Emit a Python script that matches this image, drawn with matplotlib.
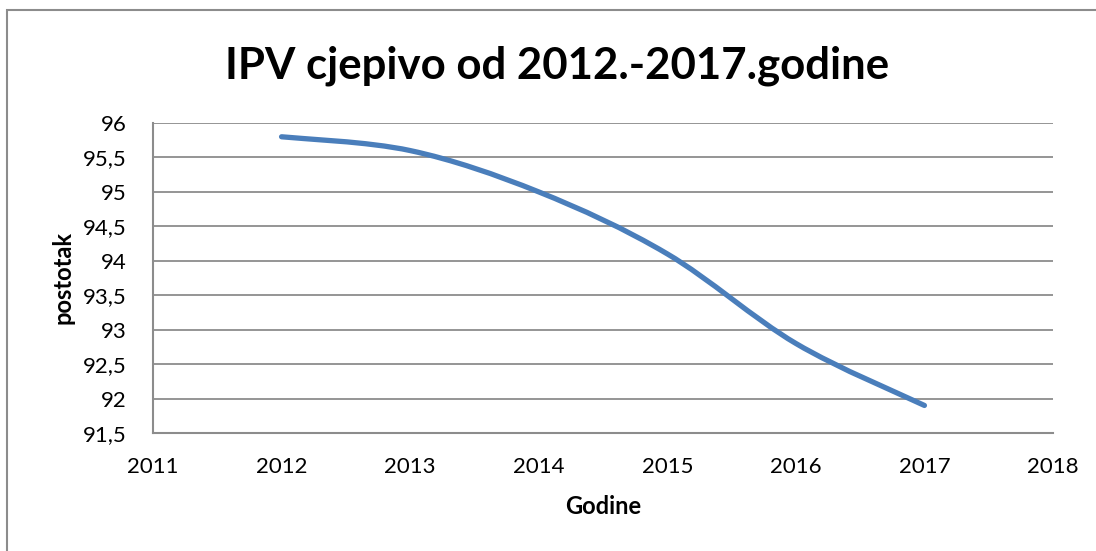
import numpy as np
import matplotlib.pyplot as plt
from matplotlib.path import Path
from matplotlib.patches import PathPatch, Rectangle

years = [2012, 2013, 2014, 2015, 2016, 2017]
postotak = [95.8, 95.6, 95.0, 94.1, 92.8, 91.9]
x_ticks = [2011, 2012, 2013, 2014, 2015, 2016, 2017, 2018]
y_ticks = [91.5, 92, 92.5, 93, 93.5, 94, 94.5, 95, 95.5, 96]

plt.rcParams['font.family'] = ['Lato', 'DejaVu Sans']

GRID = '#8c8c8c'
BLUE = '#4a7ebb'


def smooth_path(xs, ys):
    # Excel-style smoothed line: cubic bezier segments with tension 1/6
    pts = np.column_stack([xs, ys]).astype(float)
    n = len(pts)
    verts = [pts[0]]
    codes = [Path.MOVETO]
    for i in range(n - 1):
        p0 = pts[max(i - 1, 0)]
        p1 = pts[i]
        p2 = pts[i + 1]
        p3 = pts[min(i + 2, n - 1)]
        c1 = p1 + (p2 - p0) / 6
        c2 = p2 - (p3 - p1) / 6
        verts += [c1, c2, p2]
        codes += [Path.CURVE4] * 3
    return Path(verts, codes)


fig = plt.figure(figsize=(10.96, 5.51), dpi=100)
# chart border (only left and top edges are inside the picture)
fig.patches.append(Rectangle((7 / 1096, -0.5), 2, 0.5 + 1 - 10 / 551,
                             transform=fig.transFigure, fill=False,
                             edgecolor=GRID, linewidth=1.5))

ax = fig.add_axes([153 / 1096, 1 - 433 / 551, 900 / 1096, 310 / 551])
ax.add_patch(PathPatch(smooth_path(years, postotak), fill=False,
                       edgecolor=BLUE, linewidth=3.8, capstyle='round',
                       joinstyle='round', zorder=3))

ax.set_xlim(2011, 2018)
ax.set_ylim(91.5, 96)
ax.set_xticks(x_ticks)
ax.set_yticks(y_ticks)
ax.set_xticklabels([str(v) for v in x_ticks])
ax.set_yticklabels([f'{v:g}'.replace('.', ',') for v in y_ticks])
ax.tick_params(axis='y', length=0, labelsize=16, pad=19, colors='black')
ax.tick_params(axis='x', length=0, labelsize=16, pad=17, colors='black')
ax.grid(axis='y', color=GRID, linewidth=1.3)
ax.set_axisbelow(True)
for side in ['top', 'right']:
    ax.spines[side].set_visible(False)
for side in ['left', 'bottom']:
    ax.spines[side].set_color(GRID)
    ax.spines[side].set_linewidth(1.5)

ax.set_xlabel('Godine', fontsize=17, fontweight='bold', labelpad=13)
ax.set_ylabel('postotak', fontsize=17, fontweight='bold', labelpad=6)
fig.text(557 / 1096, 1 - 66 / 551, 'IPV cjepivo od 2012.-2017.godine',
         ha='center', va='center', fontsize=31.5, fontweight='bold')

fig.savefig('out.png', dpi=100)
